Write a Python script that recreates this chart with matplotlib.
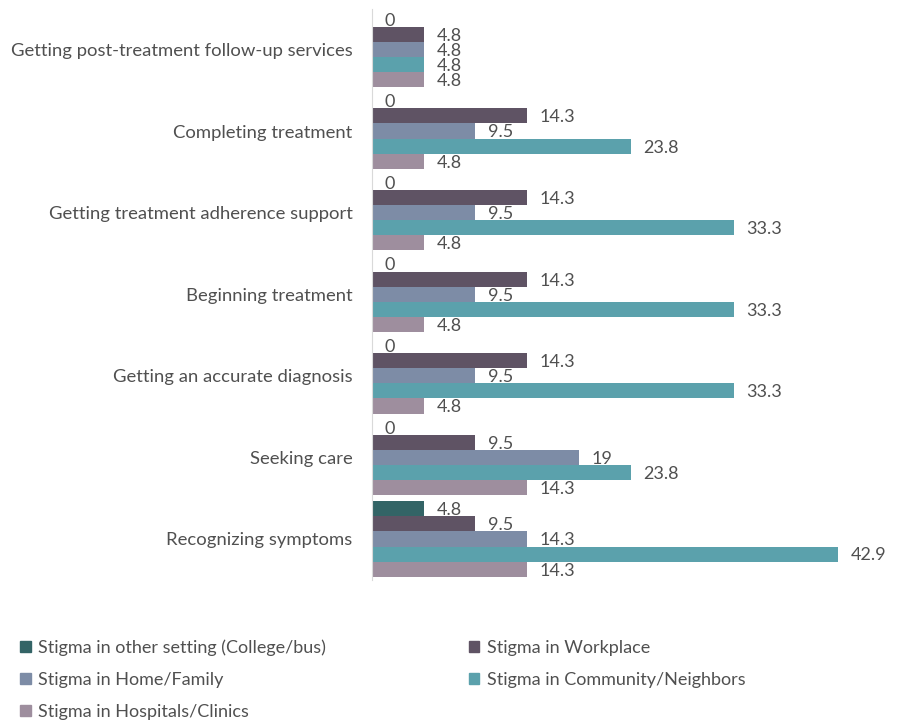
import numpy as np
import matplotlib.pyplot as plt
from matplotlib.patches import Patch

plt.rcParams['font.family'] = ['Lato', 'DejaVu Sans']

# categories, bottom to top
categorias = ['Recognizing symptoms', 'Seeking care', 'Getting an accurate diagnosis',
              'Beginning treatment', 'Getting treatment adherence support',
              'Completing treatment', 'Getting post-treatment follow-up services']

series = ['Stigma in other setting (College/bus)', 'Stigma in Workplace',
          'Stigma in Home/Family', 'Stigma in Community/Neighbors',
          'Stigma in Hospitals/Clinics']

outro = [4.8, 0, 0, 0, 0, 0, 0]
trabalho = [9.5, 9.5, 14.3, 14.3, 14.3, 14.3, 4.8]
familia = [14.3, 19, 9.5, 9.5, 9.5, 9.5, 4.8]
comunidade = [42.9, 23.8, 33.3, 33.3, 33.3, 23.8, 4.8]
hospital = [14.3, 14.3, 4.8, 4.8, 4.8, 4.8, 4.8]

cores = ['#336466', '#5F5364', '#7D8CA6', '#5BA1AC', '#9E8E9E']
valores = [outro, trabalho, familia, comunidade, hospital]
cor_texto = '#505050'

fig = plt.figure(figsize=(9.23, 7.22), dpi=100)
ax = fig.add_axes([0.403, 0.197, 0.53, 0.791])

y = np.arange(len(categorias))
h = 0.185
for i, (vals, cor) in enumerate(zip(valores, cores)):
    pos = y + (2 - i) * h
    ax.barh(pos, vals, height=h, color=cor)
    for p, v in zip(pos, vals):
        txt = '%g' % v
        ax.annotate(txt, (v, p), xytext=(9, -1), textcoords='offset points',
                    ha='left', va='center', fontsize=13, color=cor_texto)

ax.set_xlim(0, 45)
ax.set_ylim(-0.5, len(categorias) - 0.5)
ax.set_yticks(y)
ax.set_yticklabels(categorias, fontsize=13.3, color=cor_texto)
ax.tick_params(axis='y', length=0, pad=14)
ax.set_xticks([])
for s in ['top', 'right', 'bottom']:
    ax.spines[s].set_visible(False)
ax.spines['left'].set_color('#D9D9D9')

# legend: column-major order gives two rows across
ordem = [0, 2, 4, 1, 3]
handles = [Patch(color=cores[k]) for k in ordem]
labels = [series[k] for k in ordem]
fig.legend(handles, labels, loc='upper left', bbox_to_anchor=(0.004, 0.137),
           ncol=2, frameon=False, fontsize=13, labelcolor=cor_texto,
           handlelength=0.6, handleheight=0.6, handletextpad=0.4,
           columnspacing=7.9, labelspacing=0.88)

fig.savefig('out.png', dpi=100)
